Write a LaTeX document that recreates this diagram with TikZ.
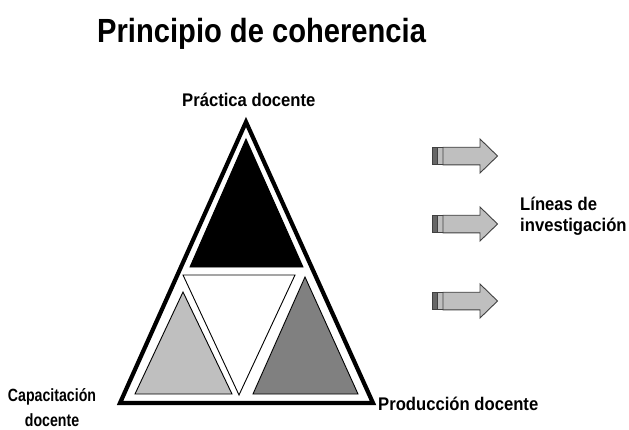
\documentclass[tikz,border=0pt]{standalone}
\usepackage{fontspec}
\setmainfont{Liberation Sans}
\newfontfamily\titlefont[FakeStretch=0.87]{Liberation Sans}
\newfontfamily\lblfont[FakeStretch=0.91]{Liberation Sans}
\newfontfamily\narrowfont[FakeStretch=0.8]{Liberation Sans}
\begin{document}
\begin{tikzpicture}[x=1pt,y=-1pt,
  lbl/.style={inner sep=0pt,font=\lblfont\fontsize{18.3}{20}\selectfont\bfseries},
  lbln/.style={inner sep=0pt,font=\narrowfont\fontsize{17.7}{20}\selectfont\bfseries},
  tri/.style={draw=black,line width=0.9pt,line join=miter},
  arrowbody/.style={draw=black!75,fill=black!25,line width=0.9pt,line join=miter},
  stripedark/.style={draw=black!75,fill=black!60,line width=0.8pt},
  stripelight/.style={draw=black!75,fill=black!25,line width=0.8pt}]
\useasboundingbox (0,0) rectangle (629,429);
% title
\node[inner sep=0pt,anchor=base west,font=\titlefont\fontsize{33.5}{36}\selectfont\bfseries] (title) at (97,42) {Principio de coherencia};
% outer triangle
\coordinate (A) at (246,122);
\coordinate (B) at (120,403);
\coordinate (C) at (373,403);
\draw[line width=4.2pt,line join=miter] (A) -- (B) -- (C) -- cycle;
% inner triangles
\draw[tri,fill=black] (246,139) -- (190,267) -- (303,267) -- cycle;
\draw[tri,fill=white] (183,275) -- (295,275) -- (239,395) -- cycle;
\draw[tri,fill=black!25] (183,292) -- (135,394) -- (232,394) -- cycle;
\draw[tri,fill=black!50] (305,277) -- (253,394) -- (358,394) -- cycle;
% labels
\node[lbl,anchor=base west] (top) at (182,106) {Práctica docente};
\node[lbl,anchor=base west] (prod) at (378,410.5) {Producción docente};
\node[lbln,anchor=base] (cap1) at (52,401) {Capacitación};
\node[lbln,anchor=base] (cap2) at (52,426) {docente};
\node[lbl,anchor=base west] (lin1) at (520,210) {Líneas de};
\node[lbl,anchor=base west] (lin2) at (520,231) {investigación};
% arrows
\foreach \yc/\nm in {156/a1,224/a2,301/a3}{
  \draw[stripedark] (432.5,\yc-8.8) rectangle (437.3,\yc+8.8);
  \draw[stripelight] (437.8,\yc-8.8) rectangle (443,\yc+8.8);
  \draw[arrowbody] (443,\yc-8.8) -- (480,\yc-8.8) -- (480,\yc-17) -- (497.5,\yc) -- (480,\yc+17) -- (480,\yc+8.8) -- (443,\yc+8.8) -- cycle;
}
\end{tikzpicture}
\end{document}
